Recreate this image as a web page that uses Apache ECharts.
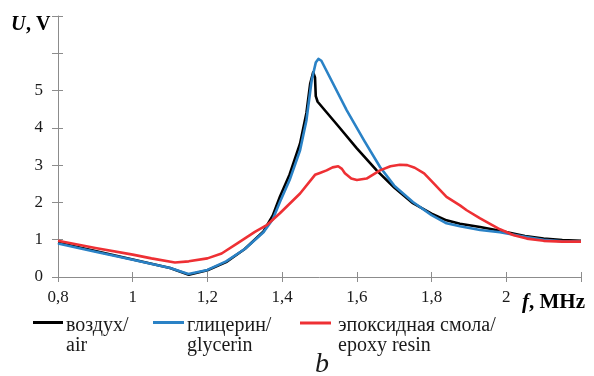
<!DOCTYPE html>
<html><head><meta charset="utf-8">
<script src="https://cdn.jsdelivr.net/npm/echarts@6/dist/echarts.min.js"></script>
<style>html,body{margin:0;padding:0;background:#fff}#c{width:594px;height:376px}</style>
</head><body><div id="c"></div>
<script>
var xTicks = ['0,8','1','1,2','1,4','1,6','1,8','2'];
var yTicks = ['0','1','2','3','4','5'];
var airData = [[0.8,0.92],[0.9,0.70],[1.0,0.47],[1.1,0.24],[1.15,0.06],[1.2,0.18],[1.25,0.40],[1.3,0.75],[1.35,1.22],[1.375,1.65],[1.394,2.15],[1.42,2.75],[1.448,3.58],[1.465,4.4],[1.475,5.18],[1.483,5.49],[1.488,5.35],[1.49,4.85],[1.495,4.70],[1.55,4.05],[1.6,3.45],[1.653,2.86],[1.7,2.4],[1.75,1.98],[1.8,1.70],[1.84,1.52],[1.876,1.43],[1.93,1.34],[1.983,1.24],[2.05,1.10],[2.1,1.03],[2.15,0.99],[2.2,0.97]];
var glycerinData = [[0.8,0.90],[0.9,0.68],[1.0,0.46],[1.1,0.24],[1.149,0.08],[1.2,0.19],[1.25,0.42],[1.3,0.75],[1.35,1.20],[1.375,1.55],[1.394,2.01],[1.42,2.6],[1.448,3.40],[1.465,4.2],[1.479,5.27],[1.49,5.75],[1.497,5.85],[1.505,5.8],[1.573,4.47],[1.62,3.65],[1.662,2.95],[1.7,2.45],[1.75,2.01],[1.8,1.66],[1.84,1.44],[1.876,1.36],[1.93,1.26],[1.983,1.20],[2.05,1.08],[2.1,1.00],[2.15,0.96],[2.2,0.95]];
var epoxyData = [[0.8,0.97],[0.9,0.78],[1.0,0.60],[1.05,0.50],[1.113,0.39],[1.15,0.42],[1.2,0.50],[1.238,0.63],[1.28,0.90],[1.327,1.21],[1.36,1.40],[1.394,1.71],[1.448,2.24],[1.488,2.74],[1.501,2.79],[1.519,2.86],[1.535,2.94],[1.55,2.97],[1.56,2.90],[1.568,2.78],[1.585,2.64],[1.6,2.6],[1.626,2.64],[1.662,2.86],[1.69,2.97],[1.715,3.01],[1.735,3.0],[1.755,2.93],[1.78,2.78],[1.8,2.57],[1.84,2.15],[1.876,1.92],[1.894,1.79],[1.93,1.57],[1.983,1.28],[2.02,1.12],[2.055,1.03],[2.1,0.97],[2.15,0.95],[2.2,0.95]];
var seriesNames = ['воздух/\nair','глицерин/\nglycerin','эпоксидная смола/\nepoxy resin'];
var colors = ['#000000','#2a82c6','#ee3034'];

var FONT = 'Liberation Serif';
var chart = echarts.init(document.getElementById('c'), null, {renderer:'canvas'});
function xl(v){ var i = Math.round((v-0.8)/0.2); return xTicks[i] !== undefined ? xTicks[i] : ''; }
function yl(v){ var i = Math.round(v); return yTicks[i] !== undefined ? yTicks[i] : ''; }
var lineStyleAxis = {color:'#8c8c8c', width:1};
function tx(l,t,s,f){ var st={text:s, fontFamily:FONT, fill:'#1a1a1a'}; for(var k in f) st[k]=f[k]; return {type:'text', left:l, top:t, style:st}; }
var option = {
  animation:false,
  grid:{left:58, right:13, top:16, bottom:99, containLabel:false},
  xAxis:[{
    type:'value', min:0.8, max:2.2, interval:0.2, position:'bottom',
    axisLine:{lineStyle:lineStyleAxis},
    axisTick:{show:true, length:5, lineStyle:lineStyleAxis},
    splitLine:{show:false},
    axisLabel:{formatter:xl, fontFamily:FONT, fontSize:17, color:'#1a1a1a', margin:12}
  },{
    type:'value', min:0.8, max:2.2, interval:0.2, position:'bottom',
    axisLine:{show:false},
    axisTick:{show:true, inside:true, length:5, lineStyle:lineStyleAxis},
    splitLine:{show:false}, axisLabel:{show:false}
  }],
  yAxis:[{
    type:'value', min:0, max:7, interval:1, position:'left',
    axisLine:{show:true, lineStyle:lineStyleAxis},
    axisTick:{show:true, length:6, lineStyle:lineStyleAxis},
    splitLine:{show:false},
    axisLabel:{formatter:yl, fontFamily:FONT, fontSize:17, color:'#1a1a1a', margin:15}
  },{
    type:'value', min:0, max:7, interval:1, position:'left', offset:0,
    axisLine:{show:false},
    axisTick:{show:true, inside:true, length:5, lineStyle:lineStyleAxis},
    splitLine:{show:false}, axisLabel:{show:false}
  }],
  series:[
    {name:seriesNames[0], type:'line', data:airData, showSymbol:false, smooth:false, lineStyle:{color:colors[0], width:2.6, join:'round'}, z:3},
    {name:seriesNames[1], type:'line', data:glycerinData, showSymbol:false, smooth:false, lineStyle:{color:colors[1], width:2.6, join:'round'}, z:4},
    {name:seriesNames[2], type:'line', data:epoxyData, showSymbol:false, smooth:false, lineStyle:{color:colors[2], width:2.6, join:'round'}, z:5}
  ],
  graphic:[
    tx(11,15,'U',{fontSize:20, fontWeight:'bold', fontStyle:'italic', fill:'#000'}),
    tx(26,15,', V',{fontSize:20, fontWeight:'bold', fill:'#000'}),
    tx(522,292,'f',{fontSize:21, fontWeight:'bold', fontStyle:'italic', fill:'#000'}),
    tx(529,292,', MHz',{fontSize:21, fontWeight:'bold', fill:'#000'}),
    {type:'line', shape:{x1:33,y1:322.5,x2:63,y2:322.5}, style:{stroke:colors[0], lineWidth:3}},
    tx(66,316,seriesNames[0],{fontSize:20, lineHeight:20}),
    {type:'line', shape:{x1:153,y1:322.5,x2:184,y2:322.5}, style:{stroke:colors[1], lineWidth:3}},
    tx(187,316,seriesNames[1],{fontSize:20, lineHeight:20}),
    {type:'line', shape:{x1:300,y1:323,x2:331,y2:323}, style:{stroke:colors[2], lineWidth:3}},
    tx(338,316,seriesNames[2],{fontSize:20, lineHeight:20}),
    tx(315,351,'b',{fontSize:28, fontStyle:'italic'})
  ]
};
chart.setOption(option);
</script></body></html>
